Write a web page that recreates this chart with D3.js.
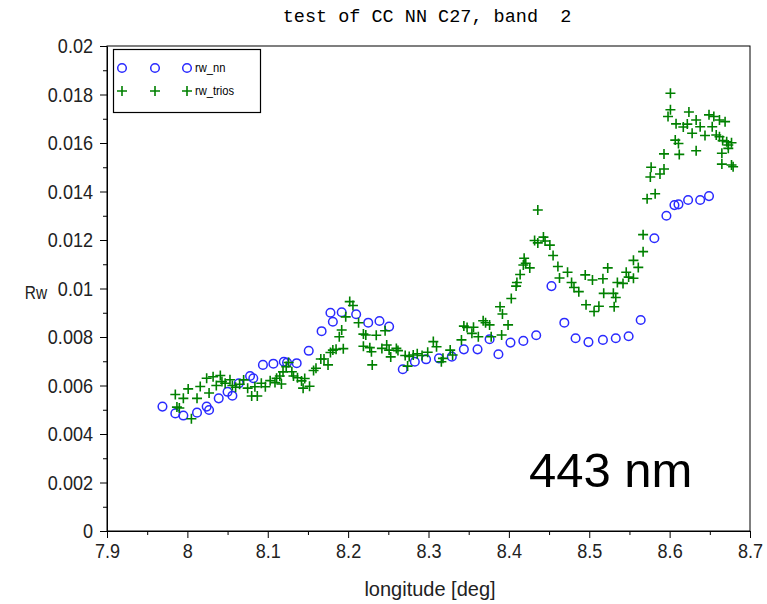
<!DOCTYPE html>
<html>
<head>
<meta charset="utf-8">
<script src="https://cdn.jsdelivr.net/npm/d3@7"></script>
<style>
  body { margin: 0; background: #fff; }
  .lbl { font-family: "Liberation Sans Narrow", "Arial Narrow", "Liberation Sans", sans-serif; }
</style>
</head>
<body>
<div id="chart"></div>
<script>
// rw_nn (blue circles)
const nnLon = [7.969,7.985,7.995,8.012,8.024,8.027,8.039,8.050,8.056,8.064,
  8.078,8.082,8.094,8.107,8.120,8.124,8.136,8.151,8.167,8.178,
  8.181,8.192,8.210,8.225,8.239,8.251,8.268,8.283,8.297,8.313,
  8.329,8.344,8.361,8.376,8.387,8.402,8.418,8.434,8.453,8.469,
  8.483,8.499,8.517,8.533,8.549,8.564,8.581,8.596,8.606,8.611,
  8.623,8.638,8.649];
const nnRw = [0.00513,0.00485,0.00476,0.00488,0.00513,0.00499,0.00547,0.00574,0.00558,0.00609,
  0.00639,0.0063,0.00685,0.0069,0.00698,0.00695,0.00692,0.00743,0.00824,0.009,
  0.00863,0.00902,0.00894,0.00859,0.00866,0.00843,0.00667,0.00698,0.00708,0.00712,
  0.00719,0.00749,0.00749,0.00791,0.00729,0.00777,0.00784,0.00807,0.0101,0.00859,
  0.00795,0.00779,0.00788,0.00795,0.00803,0.0087,0.01207,0.013,0.01344,0.01347,
  0.01365,0.01365,0.01381];

// rw_trios (green crosses)
const triosLon = [7.985,7.987,7.990,7.995,8.001,8.005,8.012,8.016,8.024,8.027,
  8.032,8.036,8.041,8.043,8.047,8.053,8.056,8.060,8.065,8.070,
  8.075,8.080,8.084,8.087,8.092,8.097,8.103,8.109,8.111,8.115,
  8.117,8.119,8.123,8.126,8.130,8.132,8.137,8.142,8.144,8.146,
  8.152,8.157,8.160,8.166,8.170,8.175,8.178,8.181,8.185,8.189,
  8.192,8.194,8.197,8.202,8.206,8.213,8.219,8.222,8.219,8.227,
  8.229,8.230,8.235,8.242,8.246,8.248,8.251,8.253,8.260,8.262,
  8.271,8.276,8.274,8.281,8.286,8.292,8.299,8.306,8.310,8.316,
  8.318,8.327,8.330,8.341,8.344,8.348,8.354,8.356,8.362,8.368,
  8.371,8.376,8.378,8.389,8.391,8.392,8.399,8.403,8.409,8.410,
  8.414,8.418,8.419,8.421,8.426,8.432,8.436,8.436,8.443,8.445,
  8.451,8.455,8.461,8.463,8.473,8.478,8.481,8.487,8.495,8.496,
  8.504,8.506,8.512,8.517,8.518,8.523,8.530,8.531,8.533,8.535,
  8.542,8.546,8.549,8.555,8.555,8.561,8.567,8.567,8.572,8.582,
  8.576,8.577,8.588,8.593,8.593,8.598,8.601,8.601,8.608,8.607,
  8.611,8.612,8.617,8.624,8.622,8.628,8.633,8.633,8.638,8.644,
  8.649,8.653,8.655,8.662,8.669,8.658,8.662,8.666,8.671,8.673,
  8.677,8.665,8.673,8.665,8.677,8.679];
const triosRw = [0.00563,0.00511,0.00507,0.00547,0.00586,0.00463,0.00547,0.00596,0.0063,0.00569,
  0.00636,0.006,0.00641,0.00616,0.00609,0.00624,0.006,0.00593,0.00605,0.00623,
  0.00589,0.00557,0.00595,0.00557,0.00609,0.00595,0.0062,0.00612,0.0063,0.00639,
  0.00606,0.00656,0.00678,0.00695,0.00657,0.00639,0.00632,0.00619,0.00589,0.00629,
  0.00597,0.00662,0.00671,0.00709,0.00709,0.00685,0.00736,0.00746,0.00749,0.00801,
  0.00829,0.00752,0.00883,0.00946,0.0093,0.00859,0.00812,0.00808,0.00762,0.00756,
  0.00739,0.00685,0.00807,0.00753,0.00826,0.00767,0.00746,0.00718,0.00753,0.00744,
  0.00724,0.0072,0.0068,0.00726,0.00731,0.00724,0.00737,0.00781,0.0076,0.00698,
  0.00712,0.00746,0.00726,0.00788,0.00845,0.00839,0.00815,0.0084,0.00801,0.00867,
  0.00859,0.0085,0.00801,0.00925,0.00808,0.00895,0.0085,0.00959,0.0101,0.01025,
  0.01058,0.01097,0.01125,0.01104,0.01085,0.01198,0.01188,0.01324,0.01212,0.01196,
  0.01179,0.01136,0.01091,0.01043,0.01067,0.01025,0.01004,0.00987,0.01056,0.00933,
  0.01035,0.00905,0.00927,0.0104,0.0098,0.01085,0.0098,0.00925,0.00963,0.01025,
  0.01021,0.01067,0.01047,0.01042,0.01116,0.01087,0.01152,0.01222,0.0137,0.01391,
  0.0146,0.015,0.01472,0.01493,0.01555,0.01709,0.01805,0.01737,0.01679,0.01612,
  0.01598,0.01553,0.01666,0.01728,0.01678,0.0164,0.01695,0.01568,0.01667,0.01631,
  0.01716,0.01667,0.01709,0.01695,0.01688,0.01633,0.01626,0.0161,0.01605,0.01592,
  0.01601,0.01558,0.01578,0.01513,0.01509,0.01502];

const xTicks = [7.9, 8, 8.1, 8.2, 8.3, 8.4, 8.5, 8.6, 8.7];
const yTicks = [0, 0.002, 0.004, 0.006, 0.008, 0.01, 0.012, 0.014, 0.016, 0.018, 0.02];
const legendNames = ["rw_nn", "rw_trios"];

const W = 767, H = 604;
const margin = {left: 107, top: 46, right: 17, bottom: 73};
const pw = W - margin.left - margin.right;
const ph = H - margin.top - margin.bottom;
const squeeze = 0.86; // labels in the original are condensed

const svg = d3.select("#chart").append("svg")
  .attr("width", W).attr("height", H);

const x = d3.scaleLinear().domain([7.9, 8.7]).range([0, pw]);
const y = d3.scaleLinear().domain([0, 0.02]).range([ph, 0]);

const g = svg.append("g").attr("transform", `translate(${margin.left},${margin.top})`);

// midpoints for minor ticks
const xMinor = d3.pairs(xTicks).map(p => (p[0] + p[1]) / 2);
const yMinor = d3.pairs(yTicks).map(p => (p[0] + p[1]) / 2);

const fmt = d => d === 0 ? "0" : String(+d.toFixed(3));

g.append("g").attr("transform", `translate(0,${ph})`)
  .call(d3.axisBottom(x).tickValues(xMinor).tickSize(4).tickFormat(""))
  .call(a => a.select(".domain").remove());
g.append("g").attr("transform", `translate(0,${ph})`)
  .call(d3.axisBottom(x).tickValues(xTicks).tickSize(7).tickSizeOuter(0)
    .tickFormat(d => String(+d.toFixed(1))))
  .call(a => a.selectAll("text").attr("class", "lbl").attr("y", 12)
    .attr("transform", `scale(${squeeze},1)`)
    .style("font-size", "21px").attr("fill", "#222"));

g.append("g")
  .call(d3.axisLeft(y).tickValues(yMinor).tickSize(4).tickFormat(""))
  .call(a => a.select(".domain").remove());
g.append("g")
  .call(d3.axisLeft(y).tickValues(yTicks).tickSize(7).tickSizeOuter(0).tickFormat(fmt))
  .call(a => a.selectAll("text").attr("class", "lbl").attr("x", -14 / squeeze)
    .attr("transform", `scale(${squeeze},1)`)
    .style("font-size", "21px").attr("fill", "#222"));

// frame
g.append("rect").attr("width", pw).attr("height", ph)
  .attr("fill", "none").attr("stroke", "#000").attr("stroke-width", 1);

// markers
const cross = (sel, cx, cy, s) => sel.append("path")
  .attr("d", `M${cx - s},${cy}H${cx + s}M${cx},${cy - s}V${cy + s}`)
  .attr("stroke", "#008000").attr("stroke-width", 1.6).attr("fill", "none");

const nnData = nnLon.map((v, i) => ({lon: v, rw: nnRw[i]}));
const triosData = triosLon.map((v, i) => ({lon: v, rw: triosRw[i]}));

g.append("g").selectAll("circle").data(nnData).join("circle")
  .attr("cx", d => x(d.lon)).attr("cy", d => y(d.rw)).attr("r", 4.3)
  .attr("fill", "none").attr("stroke", "#2a2aff").attr("stroke-width", 1.5);

const tg = g.append("g");
triosData.forEach(d => cross(tg, x(d.lon), y(d.rw), 5));

// legend
const lg = svg.append("g");
lg.append("rect").attr("x", 113.5).attr("y", 49.5).attr("width", 147).attr("height", 63)
  .attr("fill", "#fff").attr("stroke", "#000").attr("stroke-width", 1.2);
[122, 155, 187].forEach(px => {
  lg.append("circle").attr("cx", px).attr("cy", 68).attr("r", 4.3)
    .attr("fill", "none").attr("stroke", "#2a2aff").attr("stroke-width", 1.5);
  cross(lg, px, 91, 5);
});
lg.selectAll("text").data(legendNames).join("text").attr("class", "lbl")
  .attr("x", 195 / squeeze).attr("y", (d, i) => 72 + i * 23)
  .attr("transform", `scale(${squeeze},1)`)
  .style("font-size", "13px").text(d => d);

// title and axis labels
svg.append("text").attr("x", 427).attr("y", 22).attr("text-anchor", "middle")
  .style("font-family", "'Liberation Mono', 'DejaVu Sans Mono', monospace")
  .style("font-size", "18.5px").style("white-space", "pre")
  .text("test of CC NN C27, band  2");

svg.append("text").attr("class", "lbl").attr("x", 430).attr("y", 596)
  .attr("text-anchor", "middle").style("font-size", "20px").attr("fill", "#222")
  .text("longitude [deg]");

svg.append("text").attr("class", "lbl").attr("x", 36 / squeeze).attr("y", 299)
  .attr("transform", `scale(${squeeze},1)`)
  .attr("text-anchor", "middle").style("font-size", "18px").attr("fill", "#222")
  .text("Rw");

svg.append("text").attr("x", 529).attr("y", 487)
  .style("font-family", "'Liberation Sans', Arial, sans-serif")
  .style("font-size", "49px").text("443 nm");
</script>
</body>
</html>
